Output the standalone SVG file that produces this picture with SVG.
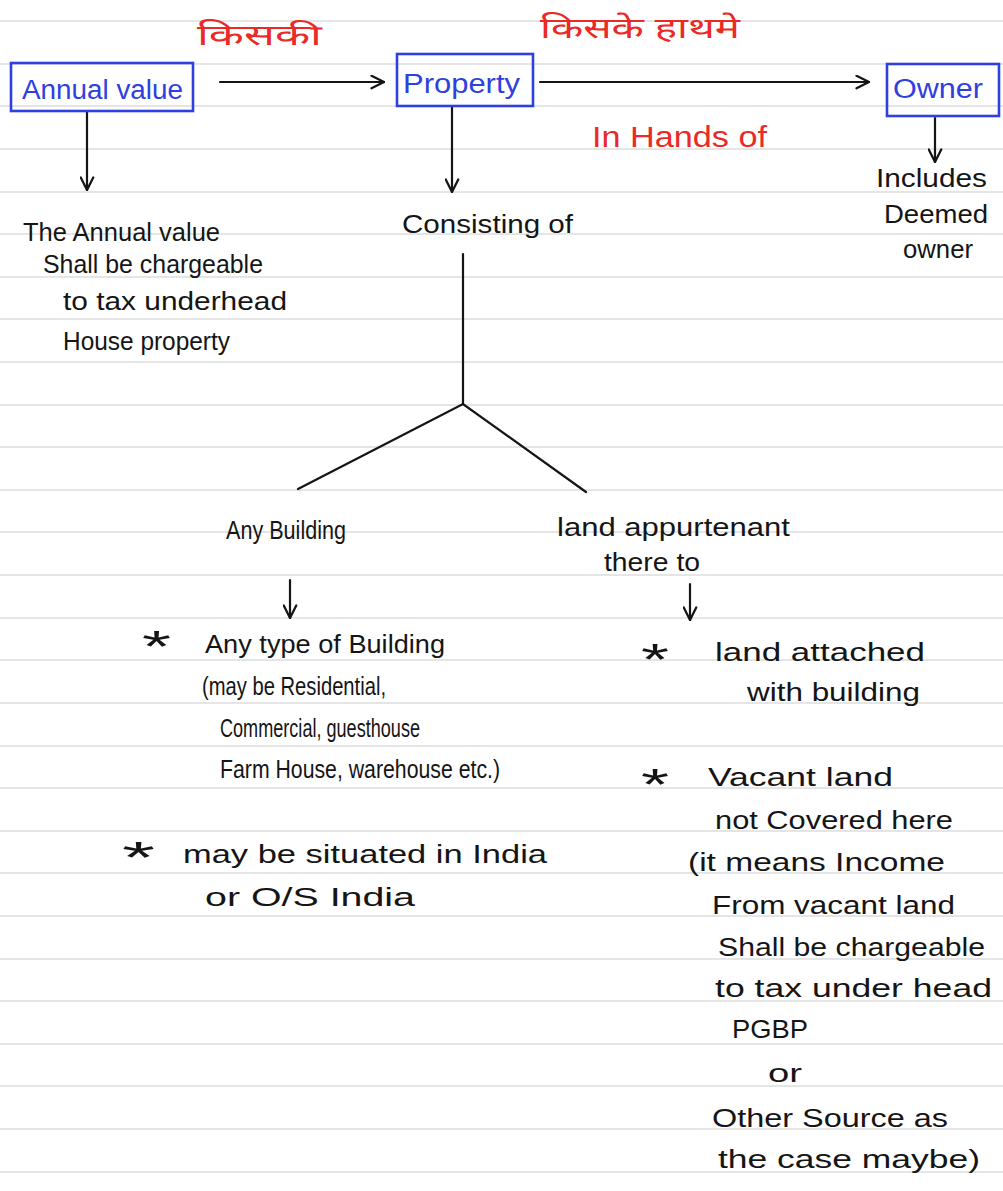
<svg xmlns="http://www.w3.org/2000/svg" width="1003" height="1191" viewBox="0 0 1003 1191">
  <style>
    .rule { stroke: #dcdcdc; stroke-width: 1.6; }
    .ink { fill: #151515; font-family: "Liberation Sans", "Noto Sans", sans-serif; font-size: 26px; }
    .blue { fill: #2f40e0; font-family: "Liberation Sans", "Noto Sans", sans-serif; font-size: 27px; }
    .red { fill: #ea2a26; font-family: "Liberation Sans", "Noto Sans", sans-serif; font-size: 30px; }
    .hindi { fill: #ea2a26; font-family: "Noto Sans Devanagari", "Noto Sans", "Lohit Devanagari", sans-serif; font-size: 28px; }
    .star { fill: #151515; font-family: "Liberation Sans", sans-serif; font-size: 44px; }
    .box { fill: none; stroke: #2f40e0; stroke-width: 2.6; }
    .line { fill: none; stroke: #151515; stroke-width: 2.2; stroke-linecap: round; }
  </style>
  <defs>
    <marker id="chev" viewBox="0 0 12 12" refX="11" refY="6" markerWidth="15" markerHeight="15" markerUnits="userSpaceOnUse" orient="auto">
      <path d="M1,1 L11,6 L1,11" fill="none" stroke="#151515" stroke-width="1.8" stroke-linecap="round" stroke-linejoin="round"/>
    </marker>
  </defs>

  <!-- lined paper -->
  <rect width="1003" height="1191" fill="#ffffff"/>
  <g id="paper">
    <line class="rule" x1="0" y1="21" x2="1003" y2="21"/>
    <line class="rule" x1="0" y1="64" x2="1003" y2="64"/>
    <line class="rule" x1="0" y1="106" x2="1003" y2="106"/>
    <line class="rule" x1="0" y1="149" x2="1003" y2="149"/>
    <line class="rule" x1="0" y1="192" x2="1003" y2="192"/>
    <line class="rule" x1="0" y1="234" x2="1003" y2="234"/>
    <line class="rule" x1="0" y1="277" x2="1003" y2="277"/>
    <line class="rule" x1="0" y1="319" x2="1003" y2="319"/>
    <line class="rule" x1="0" y1="362" x2="1003" y2="362"/>
    <line class="rule" x1="0" y1="405" x2="1003" y2="405"/>
    <line class="rule" x1="0" y1="447" x2="1003" y2="447"/>
    <line class="rule" x1="0" y1="490" x2="1003" y2="490"/>
    <line class="rule" x1="0" y1="532" x2="1003" y2="532"/>
    <line class="rule" x1="0" y1="575" x2="1003" y2="575"/>
    <line class="rule" x1="0" y1="618" x2="1003" y2="618"/>
    <line class="rule" x1="0" y1="660" x2="1003" y2="660"/>
    <line class="rule" x1="0" y1="703" x2="1003" y2="703"/>
    <line class="rule" x1="0" y1="746" x2="1003" y2="746"/>
    <line class="rule" x1="0" y1="788" x2="1003" y2="788"/>
    <line class="rule" x1="0" y1="831" x2="1003" y2="831"/>
    <line class="rule" x1="0" y1="873" x2="1003" y2="873"/>
    <line class="rule" x1="0" y1="916" x2="1003" y2="916"/>
    <line class="rule" x1="0" y1="959" x2="1003" y2="959"/>
    <line class="rule" x1="0" y1="1001" x2="1003" y2="1001"/>
    <line class="rule" x1="0" y1="1044" x2="1003" y2="1044"/>
    <line class="rule" x1="0" y1="1086" x2="1003" y2="1086"/>
    <line class="rule" x1="0" y1="1129" x2="1003" y2="1129"/>
    <line class="rule" x1="0" y1="1172" x2="1003" y2="1172"/>
  </g>

  <!-- connectors -->
  <g id="connectors">
    <line class="line" x1="220" y1="82" x2="384" y2="82" marker-end="url(#chev)"/>
    <line class="line" x1="540" y1="82" x2="869" y2="82" marker-end="url(#chev)"/>
    <line class="line" x1="87" y1="111" x2="87" y2="190" marker-end="url(#chev)"/>
    <line class="line" x1="452" y1="106" x2="452" y2="192" marker-end="url(#chev)"/>
    <line class="line" x1="935" y1="118" x2="935" y2="162" marker-end="url(#chev)"/>
    <polyline class="line" points="463,254 463,404"/>
    <polyline class="line" points="298,489 463,404 586,492"/>
    <line class="line" x1="290" y1="580" x2="290" y2="618" marker-end="url(#chev)"/>
    <line class="line" x1="690" y1="584" x2="690" y2="620" marker-end="url(#chev)"/>
  </g>

  <!-- edge labels -->
  <g id="label-kiski">
    <text class="hindi" x="197" y="45" textLength="125" lengthAdjust="spacingAndGlyphs">किसकी</text>
  </g>
  <g id="label-kiske-haath-me">
    <text class="hindi" x="540" y="38" textLength="200" lengthAdjust="spacingAndGlyphs">किसके हाथमे</text>
  </g>
  <g id="label-in-hands-of">
    <text class="red" x="592" y="147" textLength="175" lengthAdjust="spacingAndGlyphs">In Hands of</text>
  </g>

  <!-- boxed nodes -->
  <g id="node-annual-value">
    <rect class="box" x="11" y="63" width="182" height="48"/>
    <text class="blue" x="22" y="99" textLength="161" lengthAdjust="spacingAndGlyphs">Annual value</text>
  </g>
  <g id="node-property">
    <rect class="box" x="397" y="54" width="136" height="52"/>
    <text class="blue" x="403" y="93" textLength="117" lengthAdjust="spacingAndGlyphs">Property</text>
  </g>
  <g id="node-owner">
    <rect class="box" x="887" y="64" width="112" height="52"/>
    <text class="blue" x="893" y="98" textLength="90" lengthAdjust="spacingAndGlyphs">Owner</text>
  </g>

  <!-- notes under the boxes -->
  <g id="node-annual-value-note">
    <text class="ink" x="23" y="241" font-size="25" textLength="197" lengthAdjust="spacingAndGlyphs">The Annual value</text>
    <text class="ink" x="43" y="273" font-size="24" textLength="220" lengthAdjust="spacingAndGlyphs">Shall be chargeable</text>
    <text class="ink" x="63" y="310" textLength="224" lengthAdjust="spacingAndGlyphs">to tax underhead</text>
    <text class="ink" x="63" y="350" font-size="24" textLength="167" lengthAdjust="spacingAndGlyphs">House property</text>
  </g>
  <g id="node-consisting-of">
    <text class="ink" x="402" y="233" textLength="171" lengthAdjust="spacingAndGlyphs">Consisting of</text>
  </g>
  <g id="node-includes">
    <text class="ink" x="876" y="187" textLength="111" lengthAdjust="spacingAndGlyphs">Includes</text>
    <text class="ink" x="884" y="223" textLength="104" lengthAdjust="spacingAndGlyphs">Deemed</text>
    <text class="ink" x="903" y="258" textLength="70" lengthAdjust="spacingAndGlyphs">owner</text>
  </g>

  <!-- branches -->
  <g id="node-any-building">
    <text class="ink" x="226" y="539" font-size="24" textLength="120" lengthAdjust="spacingAndGlyphs">Any Building</text>
  </g>
  <g id="node-land-appurtenant">
    <text class="ink" x="557" y="536" textLength="233" lengthAdjust="spacingAndGlyphs">land appurtenant</text>
    <text class="ink" x="604" y="571" textLength="96" lengthAdjust="spacingAndGlyphs">there to</text>
  </g>

  <g id="node-building-notes">
    <text class="star" x="142" y="662" textLength="29" lengthAdjust="spacingAndGlyphs">*</text>
    <text class="ink" x="205" y="653" font-size="25" textLength="240" lengthAdjust="spacingAndGlyphs">Any type of Building</text>
    <text class="ink" x="202" y="695" font-size="23" textLength="184" lengthAdjust="spacingAndGlyphs">(may be Residential,</text>
    <text class="ink" x="220" y="737" font-size="23" textLength="200" lengthAdjust="spacingAndGlyphs">Commercial, guesthouse</text>
    <text class="ink" x="220" y="778" font-size="24" textLength="280" lengthAdjust="spacingAndGlyphs">Farm House, warehouse etc.)</text>
    <text class="star" x="122" y="873" textLength="33" lengthAdjust="spacingAndGlyphs">*</text>
    <text class="ink" x="183" y="863" textLength="364" lengthAdjust="spacingAndGlyphs">may be situated in India</text>
    <text class="ink" x="205" y="906" textLength="210" lengthAdjust="spacingAndGlyphs">or O/S India</text>
  </g>

  <g id="node-land-notes">
    <text class="star" x="641" y="675" textLength="28" lengthAdjust="spacingAndGlyphs">*</text>
    <text class="ink" x="715" y="661" textLength="210" lengthAdjust="spacingAndGlyphs">land attached</text>
    <text class="ink" x="747" y="701" textLength="173" lengthAdjust="spacingAndGlyphs">with building</text>
    <text class="star" x="641" y="800" textLength="28" lengthAdjust="spacingAndGlyphs">*</text>
    <text class="ink" x="708" y="786" textLength="185" lengthAdjust="spacingAndGlyphs">Vacant land</text>
    <text class="ink" x="715" y="829" textLength="238" lengthAdjust="spacingAndGlyphs">not Covered here</text>
    <text class="ink" x="688" y="871" textLength="257" lengthAdjust="spacingAndGlyphs">(it means Income</text>
    <text class="ink" x="712" y="914" textLength="243" lengthAdjust="spacingAndGlyphs">From vacant land</text>
    <text class="ink" x="718" y="956" textLength="267" lengthAdjust="spacingAndGlyphs">Shall be chargeable</text>
    <text class="ink" x="715" y="997" textLength="277" lengthAdjust="spacingAndGlyphs">to tax under head</text>
    <text class="ink" x="732" y="1038" font-size="24" textLength="76" lengthAdjust="spacingAndGlyphs">PGBP</text>
    <text class="ink" x="768" y="1082" textLength="34" lengthAdjust="spacingAndGlyphs">or</text>
    <text class="ink" x="712" y="1127" textLength="236" lengthAdjust="spacingAndGlyphs">Other Source as</text>
    <text class="ink" x="718" y="1168" textLength="262" lengthAdjust="spacingAndGlyphs">the case maybe)</text>
  </g>
</svg>
